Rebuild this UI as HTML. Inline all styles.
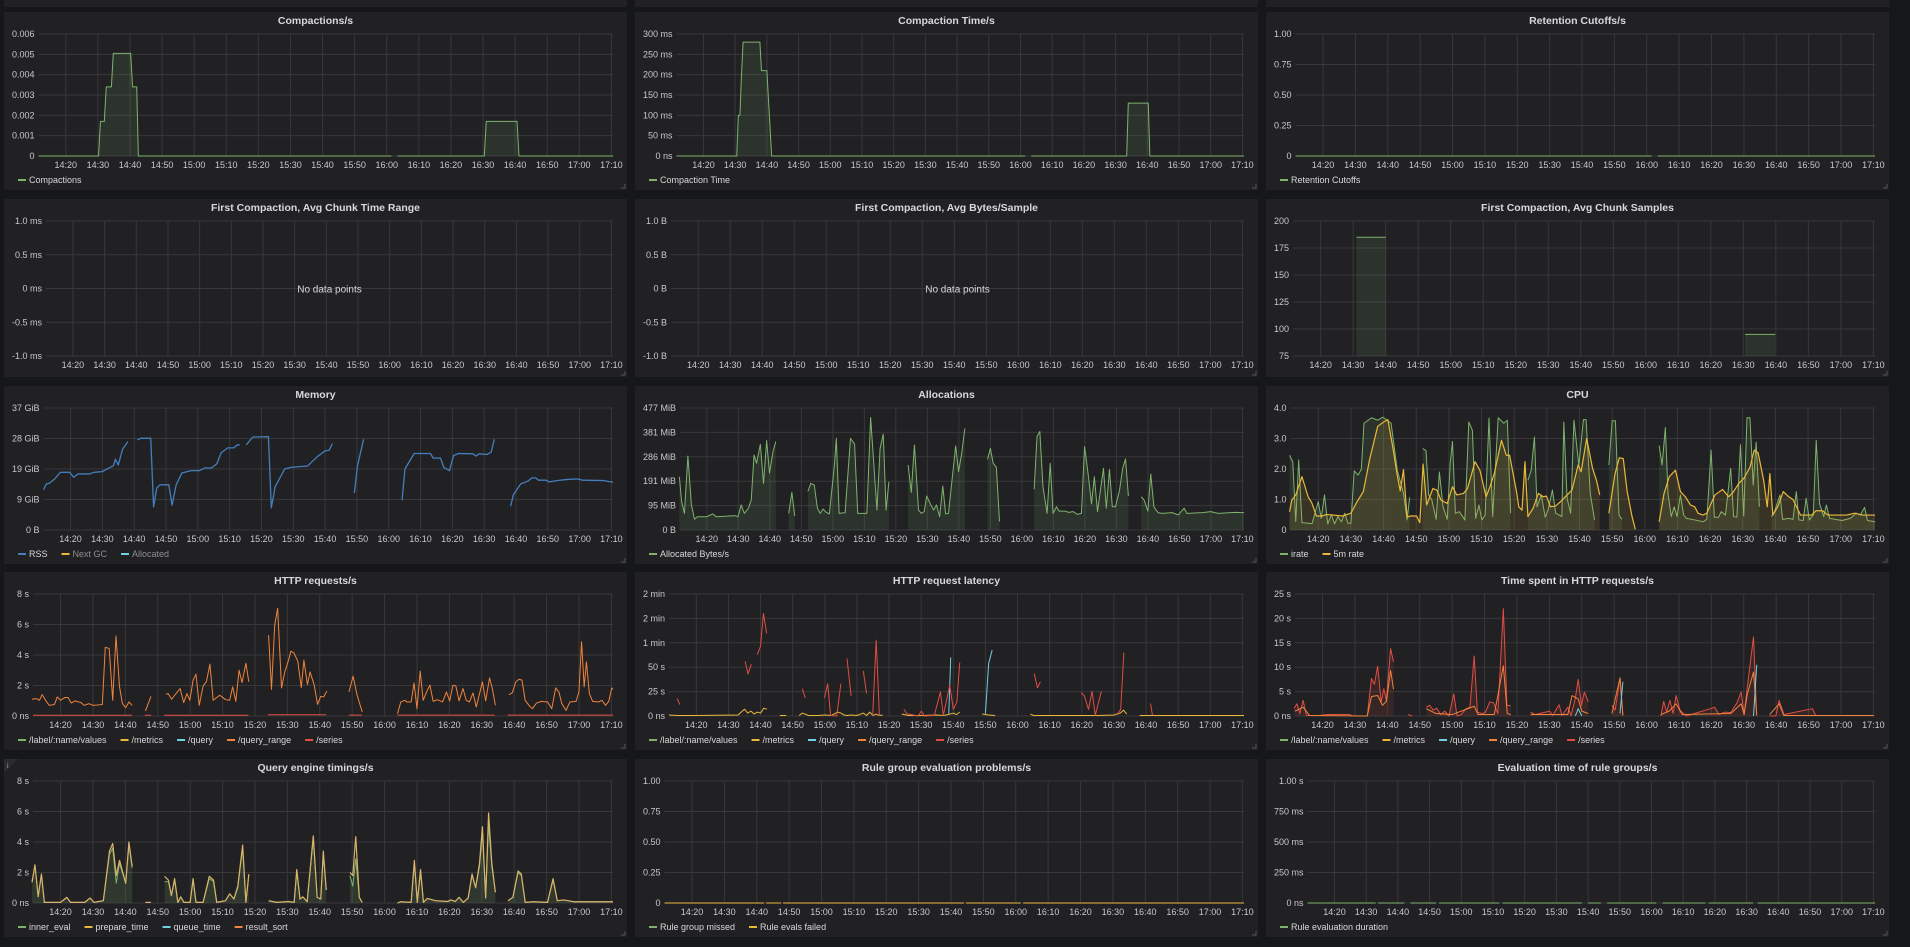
<!DOCTYPE html>
<html><head><meta charset="utf-8">
<style>
html,body{margin:0;padding:0;background:#161719;width:1910px;height:947px;overflow:hidden;font-family:"Liberation Sans",sans-serif;}
.panel{position:absolute;background:#212124;}
svg text{font-family:"Liberation Sans",sans-serif;}
</style></head>
<body>
<div id="root"></div>
<script>
// ---------- shared axis data ----------
const xTickLabels=["14:20","14:30","14:40","14:50","15:00","15:10","15:20","15:30","15:40","15:50","16:00","16:10","16:20","16:30","16:40","16:50","17:00","17:10"];
const tStart=11.5, tEnd=190.5;

// ---------- Compactions/s ----------
const compT=[11.5,30.2,30.8,32,32.6,34.2,34.8,40.2,40.8,42.1,42.6,44,121.5,121.6,123.4,150.4,151,160.6,161.2,190.5];
const compV=[0,0,0.0017,0.0017,0.0034,0.0034,0.00505,0.00505,0.0034,0.0034,0,0,0,null,0,0,0.0017,0.0017,0,0];
const compTicks=[0,0.001,0.002,0.003,0.004,0.005,0.006];
const compTickLabels=["0","0.001","0.002","0.003","0.004","0.005","0.006"];

// ---------- Compaction Time/s ----------
const ctT=[11.5,30.5,31,31.5,32,32.5,37.8,38.3,40,41.5,121.5,121.6,123.4,153.5,154,160.3,160.8,190.5];
const ctV=[0,0,100,100,200,280,280,210,210,0,0,null,0,0,130,130,0,0];
const ctTicks=[0,50,100,150,200,250,300];
const ctTickLabels=["0 ns","50 ms","100 ms","150 ms","200 ms","250 ms","300 ms"];

// ---------- Retention ----------
const retT=[11.5,121.5,121.6,123.4,190.5];
const retV=[0,0,null,0,0];
const unitTicks=[0,0.25,0.5,0.75,1];
const unitTickLabels=["0","0.25","0.50","0.75","1.00"];

// ---------- No data panels ----------
const msTicks=[-1,-0.5,0,0.5,1];
const msTickLabels=["-1.0 ms","-0.5 ms","0 ms","0.5 ms","1.0 ms"];
const bTickLabels=["-1.0 B","-0.5 B","0 B","0.5 B","1.0 B"];

// ---------- Avg chunk samples ----------
const sampT=[31,40,40.1,150.5,159.8];
const sampV=[185,185,null,95,95];
const sampTicks=[75,100,125,150,175,200];
const sampTickLabels=["75","100","125","150","175","200"];

// ---------- Memory ----------
const memT=[11.5,12.4,13.4,15,16.8,19.7,21,22.3,26,27.4,29.9,32.5,33.5,34.1,35,36.3,38,39,41,42,45.2,46.1,47.1,48.1,50.9,51.9,53.2,55,57.9,60.5,62.2,64.3,66,67.3,69.4,71.3,72.4,73.2,74,75.2,77.3,82.2,83.1,84.3,87.3,89.2,94.5,97.5,100,101.3,102.3,105,109.2,110.2,112.1,118,124.2,125.1,128,133.1,134,136.3,137.3,139.1,140.4,142,146.5,147.4,148.4,150.9,152.2,153.2,155,158.3,159.2,161.5,163.7,165,166.2,167.1,169.4,170.4,173.2,175.7,179.4,180.9,187.3,189.8,190.5];
const memV=[12.2,14,14.2,15.5,17.5,17.5,16,17,17,17.5,17.7,19,19.5,21.5,19.7,24.4,26.8,null,27.3,27.8,27.8,7,12.8,13.7,13.7,7.5,13.7,17.3,18,18,18.8,18.8,20.1,23.4,24.9,24.9,25.8,25.8,null,25.8,28.2,28.3,6.7,13.1,18.5,19,19.4,22.2,24,24.2,26.2,null,11.2,19.5,27.5,null,9,18.5,23.2,23.2,21.8,21.8,19,18,22.6,23.2,23.1,22.4,23.1,22.9,23.6,27.5,null,7.2,10.7,14,14.8,15.8,15.8,15.1,15.1,14.6,15,15.3,15.5,15.1,15,14.6,14.6];
const memTicks=[0,9.25,18.5,27.75,37];
const memTickLabels=["0 B","9 GiB","19 GiB","28 GiB","37 GiB"];

// ---------- Allocations ----------
const allocT=[11.3,12,12.9,14,15.1,16.1,17,20,21.9,23,29,29.9,30.9,31.9,33.2,34.1,35,35.8,37,38,39,39.9,41,41.9,44,46,47,47.9,50,52.1,53,54.1,55.1,56,56.9,57.9,58.9,60.5,61.1,62,63.9,65.6,66.9,67.9,70.8,72,74,75,76,76.9,77.8,80,83.9,84.9,85.9,87.2,88.1,89,89.8,91.1,92,92.9,93.9,94.9,95.8,96.7,99,99.9,100.9,101.9,105,109.1,110,110.9,111.9,112.9,118,123.9,124.8,125.7,126.7,128,129,129.9,131,131.8,133.8,134.8,136.3,137.6,138.9,139.9,141.2,142.1,143,144,145.9,146.8,147.8,148.7,149.7,151,152,152.9,153.8,156,157.9,158.8,160,160.9,161.9,163.2,164.5,167.7,169.6,171.5,172.4,177.3,179.9,182.4,187.5,190.5];
const allocV=[208,111,65,289,100,42,52,52,63,52,56,52,98,65,85,117,293,261,335,182,350,222,306,346,null,65,147,55,null,151,182,176,85,65,82,69,63,254,358,65,68,358,336,65,65,440,78,319,375,78,189,null,254,147,332,78,65,72,133,98,78,98,52,172,63,65,329,228,300,397,null,276,319,261,245,33,null,159,365,385,169,65,261,65,91,74,74,69,72,61,65,326,202,102,208,72,241,85,237,91,91,156,241,278,133,null,130,117,74,219,91,68,65,68,59,85,65,68,72,65,69,68];
const allocTicks=[0,95.4,190.8,286.2,381.6,477];
const allocTickLabels=["0 B","95 MiB","191 MiB","286 MiB","381 MiB","477 MiB"];

// ---------- CPU ----------
const irateT=[11.2,12.2,13.1,14,15,18.1,20,20.9,21.9,22.9,24,25,26,27.1,28.1,29.1,30,31,32.2,33.2,34,36.3,38.2,39.8,42.3,44.2,46.1,47.2,48,50,52,53,53.8,54.8,56.1,57.1,58.2,59.5,60.4,61.1,62,63.2,64.9,66.1,67.2,68.2,69.2,70.1,71.1,72.3,73.4,75.1,76.8,77.9,78.9,81,84.2,85.2,86.2,87,88.3,89.5,90.4,91.7,92.7,94.6,95.2,96.2,97.3,98.3,99.8,101.2,102,103.3,104.6,106,109,110,111,112.1,113,118,124.4,125.3,126.3,127.1,128.1,129,129.9,130.9,131.9,132.8,135.3,137.8,139,140.3,141.3,142.6,143.4,144.7,146.3,147.2,148.2,149.3,150.3,151.3,152.2,153.2,154.1,155.1,157,158.8,159.7,161.4,162.2,164.1,165.4,166.4,167.2,168.5,169.4,170.4,171.6,172.5,173.5,174.8,175.6,176.6,180.4,182.9,184.8,186,187.3,188.2,190.5];
const irateV=[2.45,2.23,0.27,2.3,0.24,0.21,0.93,0.38,1.15,0.2,0.5,0.2,0.44,0.27,0.55,0.22,0.22,1.94,1.8,2.0,3.5,3.68,3.6,3.7,3.5,1.96,1.2,0.33,1.07,null,2.67,2.6,1.15,0.98,0.35,1.9,0.76,0.35,2.18,2.9,0.55,0.6,0.33,3.54,3.27,0.38,0.82,0.33,0.49,3.67,0.44,3.68,3.5,3.6,0.55,null,1.63,1.96,3.05,0.76,1.15,0.42,0.66,1.31,0.55,0.44,3.54,1.04,0.55,3.6,2.13,3.62,3.62,1.2,0.33,null,2.13,3.58,3.58,0.49,0.35,null,2.77,2.13,3.36,1.2,0.44,0.76,0.44,1.15,0.49,0.38,0.33,0.27,0.35,2.62,0.42,0.42,0.6,0.49,2.02,0.44,0.42,2.8,0.46,3.68,3.68,1.47,2.88,0.76,null,0.44,0.6,1.15,0.35,0.38,0.35,1.26,0.33,0.31,1.04,0.33,0.49,2.94,0.87,0.44,0.82,0.38,0.31,0.38,0.55,0.49,0.74,0.31,0.27];
const rate5T=[11.2,11.9,13.1,15,16.9,18.1,19.4,21.3,22.5,27.5,30,31.9,33.8,35.7,38.2,40.1,41.3,42.8,44.1,45.1,46.1,47.2,48.2,50.1,51.1,52.1,53.2,55.1,56.3,57.6,59.5,61.1,62.4,64.5,65.7,68,69.5,71.4,72.6,73.9,76.1,77.6,78.6,80.8,81.4,82.4,83.3,84.2,85.8,87.4,88.9,89.9,91.1,92.7,94.2,96.2,97.7,99.6,100.5,102.2,104,105.2,106.2,108,109,110.9,112.2,113.4,114.6,116.1,117.1,120,124.4,125.9,127.5,129.4,130.9,132.4,134,135.3,136.3,137.8,139,140.3,141.5,143.8,145.7,147.2,148.8,150.3,152.2,153.5,154.7,156.4,157.5,158.3,159.2,160.7,162.4,164.1,165.4,166.7,167.7,171.1,172.4,174.5,176.1,181.8,184.3,186.7,190.5];
const rate5V=[0.6,0.98,1.15,1.75,1.09,0.87,0.46,0.46,0.51,0.46,0.55,0.93,1.26,2.3,3.4,3.55,3.62,2.73,1.85,1.28,1.98,0.42,0.46,0.46,0.24,2.16,0.82,1.36,1.31,0.98,0.87,1.42,1.15,1.2,1.36,2.24,1.96,1.09,1.42,1.85,2.94,2.45,2.45,1.2,0.76,0.65,2.24,0.44,0.71,1.2,1.09,1.11,0.76,0.79,0.93,1.15,1.31,2.13,1.91,3.0,2.02,1.63,1.15,null,0.55,1.85,2.37,2.34,1.26,0.44,0.02,null,0.27,1.2,1.75,1.96,1.26,1.09,0.82,0.76,0.55,0.49,0.55,0.87,1.15,1.33,1.09,1.26,1.53,1.69,2.05,2.62,2.53,1.63,0.76,1.85,0.49,0.76,1.26,1.09,1.0,0.71,0.49,0.49,0.63,0.63,0.49,0.49,0.55,0.49,0.49];
const cpuTicks=[0,1,2,3,4];
const cpuTickLabels=["0","1.0","2.0","3.0","4.0"];

// ---------- HTTP requests/s ----------
const reqT=[11.2,12.5,13.5,14.3,15.6,16.5,18.1,19,20,21.3,22.3,23.3,24.4,26.3,27.3,28.8,30,32.9,33.8,35,36.1,37.1,38.2,39.1,40.1,41.1,42.1,44,46.2,47.9,50,52.5,53.2,54.3,55.2,56.9,58,59,59.9,60.9,61.8,62.8,64,65,66.1,67.1,69.1,71,72.2,73.1,74.1,75.1,76,77.2,78.1,80,84.2,85.1,86.1,87,88.2,89.2,90.2,91.1,92,93.2,94.3,95.1,96.2,97,98.3,99.3,100.3,101.2,102.2,105,109,110.3,111.4,113.1,118,124,125,126.3,126.9,128.2,129.1,130,131,131.9,133.2,134,135,136.3,137.9,139.1,140.1,141.1,142,143,144.2,145.2,146.2,147.3,148.3,150.2,151.2,152.4,153.3,154.2,156,158.4,159.4,160.5,161.5,162.4,163.4,164.7,165.6,166.9,168.4,170.3,171.6,172.8,173.8,174.7,176,177.2,179.1,180,180.8,181.6,182.3,183.2,184.2,186.1,187.1,188.2,189.2,190.1,190.5];
const reqV=[1.1,1.14,1.03,1.4,0.96,0.7,0.75,1.25,1.03,1.21,1.21,0.85,0.99,0.88,0.7,0.81,0.7,0.75,4.5,4.43,1.03,5.24,1.91,0.81,0.55,0.92,0.7,null,0.33,1.29,null,1.43,1.47,1.1,1.36,1.8,0.88,1.47,1.03,2.35,2.74,0.7,1.97,2.24,3.4,1.03,1.36,1.07,1.03,1.91,0.96,3.0,2.19,3.46,2.24,null,5.3,1.75,5.96,7.06,1.84,2.89,3.55,4.25,4.14,3.61,1.86,3.66,2.06,2.89,2.02,0.77,1.29,1.25,1.64,null,1.58,2.61,1.47,0.26,null,0.15,0.92,1.03,0.92,0.92,2.17,0.48,2.94,1.03,1.69,2.02,0.96,1.07,0.92,1.58,0.99,2.02,1.97,0.99,1.8,1.03,0.92,1.51,0.59,2.24,0.99,2.5,1.75,0.7,null,1.4,1.51,2.24,2.41,2.35,1.03,0.66,0.48,0.85,0.96,0.92,0.48,1.84,1.58,0.81,0.37,0.92,0.96,1.58,4.87,1.91,3.55,1.47,0.96,0.92,1.03,0.7,0.96,1.84,1.75];
const lowT=[11.5,42,44,46,48,50,52,78,80,84,102,105,109,113,118,124,154,156,158,190.5];
const reqLowV=[0.05,0.05,null,0.05,0.05,null,0.05,0.05,null,0.08,0.08,null,0.06,0.06,null,0.06,0.06,null,0.06,0.06];
const reqTicks=[0,2,4,6,8];
const reqTickLabels=["0 ns","2 s","4 s","6 s","8 s"];

// ---------- HTTP request latency ----------
const latSerT=[14,14.9,16,35.2,36.1,37.1,38,39,40,40.9,41.9,43,53,53.9,55,59.9,60.9,61.8,63.7,65,66,66.9,68.2,70,72,73,74,74.9,76,77,80,84.6,85.5,89,90.1,91,94.1,96,96.9,98.9,100,101.1,102,104,125.2,126.2,127.1,130,139.8,140.8,142.1,143.2,144.2,146.1,148,151.2,152.1,153.1,155,161.4,162];
const latSerV=[17.8,11.6,null,56,43,53,null,63,71.6,105,84.6,null,28,18.5,null,18.5,33,0.7,0,33,null,59,20.5,null,46,23,null,0,77.7,0,null,6.8,2.4,0,5,0,0.7,24.7,0.7,31.5,6.8,14.4,54.8,null,43.5,28.8,35,null,24,20.5,6.8,25.3,0.7,25.3,null,2.4,6.8,65,null,12.7,0.7];
const latQueryT=[98.6,99.2,100,110,111,112.1];
const latQueryV=[2.4,60,null,2.4,53.8,67.5];
const latMetT=[11.5,14,20,33,35,36,37,38,39,40,41,42,44,46,48,50,52,53,55,58,60,62,64,65,66,67,68,70,72,73,74,75,76,77,78,80,84,86,90,95,97,99,100,101,102,105,109,111,113,118,124,125,127,130,140,145,150,152,153,154,156,158,170,190.5];
const latMetV=[1,0.5,0.5,1,7,3,5,2,4,3,8,7,null,0.5,0.5,null,0.5,3,0.5,0.5,1,0.5,4,3,1,0.5,1,0.5,3,0.5,4,0.5,2,0.5,1,null,2,0.5,0.5,1,0.5,2,3,1.5,4,null,2,1,0.5,null,2,0.5,0.5,0.5,0.5,0.5,1,3,6,2,null,0.5,0.5,0.5];
const latTicks=[0,25,50,75,100,125];
const latTickLabels=["0 ns","25 s","50 s","1 min","2 min","2 min"];

// ---------- Time spent in HTTP requests/s ----------
const spentT=[11.2,12.1,13,14,15,19,21.5,28.4,29.3,33.8,35.1,36,37,38.1,38.9,39.7,41,41.9,44,46.4,47.6,50,52,53,54.2,55.2,56.5,57.7,59,60.5,61.5,62.8,64.3,65.5,66.8,67.8,69.3,70.3,71.6,72.8,74.1,75.8,76.9,78.1,80,84.2,85.7,90.1,91,93,93.9,95.7,96.7,98,98.9,99.9,100.8,102,105,109.3,110.3,111.8,112.7,118,124.4,125.3,126.2,127.2,128.2,129.1,130.3,132.2,139.7,141,142.3,144.2,146,147.9,149.2,150.1,151.1,153,154,156,158,159.9,160.9,162.4,171.2,172.2,190.1];
const spentV=[1.5,2.5,0.5,3.2,0.1,0.1,0.3,0.3,0,0,7.7,6.5,10.2,2.9,5.6,3.2,13.8,11.1,null,0.3,0,null,1.8,2.2,1.2,1.6,0.3,1,0,4.5,0,0.3,1.5,1.8,12.3,0.8,0.5,0.8,2.9,2.7,0.5,22,2.2,2.1,null,0.8,0.3,1,0.1,2.3,0.1,1.8,0.1,3.6,7.5,2.2,4.9,2.9,null,2.2,1.2,7.8,0.1,null,0,3,0.8,3.2,0.5,4.2,1.2,0,1.5,1.8,0.3,0.8,0.7,2.7,4.9,0.3,6,16.2,0.1,null,0,0,3.2,0.3,1.5,0.1,0.1];
const spentRangeT=[11.5,14,16,33.8,35.1,37,38.5,39.7,41,41.9,44,52,55,60,66.8,68,73,75.8,77,78.1,80,84.2,95.7,97,98.9,100,102,105,109.3,111.8,112.7,118,124.4,127,129.1,131,146,149.2,150.1,151.1,153,154,156,158,160.9,162.4,190.1];
const spentRangeV=[1,1.8,0.1,0,4,4.2,2.2,3,9.3,5.5,null,1.5,0.5,0.3,2,0.3,0.3,10.3,0.5,0.3,null,0.3,0.3,4.2,3.5,1,0.5,null,0.5,7.8,0.1,null,0.3,1,2.5,0.3,0.5,2.5,0.3,4.5,9,0.1,null,0.3,2.5,0.1,0.1];
const spentQueryT=[98,98.9,100,110,111.8,112.7,152,153,154];
const spentQueryV=[0,1.5,0,null,0.5,7,null,0,10.5];
const spentTicks=[0,5,10,15,20,25];
const spentTickLabels=["0 ns","5 s","10 s","15 s","20 s","25 s"];

// ---------- Query engine timings ----------
const qeT=[11.2,12.1,13.1,14.1,15,20,21.9,23.1,27.5,29.1,30.3,33.2,35.1,36.1,37.2,38.2,40.1,41.1,42.1,44,46.2,47.9,50,52.1,53.3,54.2,55.2,56.2,57.1,58.1,60,60.9,61.8,64,65.9,67.2,68.2,70.9,72.2,73.5,74.7,76.2,77.2,78.1,80,84.2,86.7,90.4,92.1,92.9,93.9,94.8,96.1,98,99.2,100.3,101.1,102,105,109.3,110.2,111.1,112.2,113.1,118,124,125,128.2,129.2,130.1,131.1,132,133.2,135.7,139.5,140.5,141.8,143,144.3,145.8,147,148.1,149.3,150.2,151.2,152.1,153.1,154.2,156,158.1,159.6,161.2,162.2,163.4,165.9,170.3,172,173.3,175.3,178.5,184.8,190.5];
const qeInnerV=[1.36,2.5,0.42,1.9,0.04,0.04,0.37,0.04,0.04,0.33,0.04,0.15,3.2,3.6,1.3,2.6,1.3,3.8,2.3,null,0.04,0.04,null,1.4,1.4,0.48,1.5,0.04,0.4,0.04,0.04,1.5,0.04,0.04,1.6,1.4,0.04,0.15,0.6,0.26,1.0,3.6,0.04,1.8,null,0.15,0.04,0.1,0.04,2.0,0.26,0.4,0.08,4.2,0.37,0.26,3.2,0.85,null,1.8,1.1,2.9,0.37,0.04,null,0,0.08,0.04,2.6,0.04,2.0,0.04,0.3,0.15,0.1,0.2,0.1,0.37,0.04,0.33,1.8,1.0,2.4,4.6,0.33,5.2,2.4,0.7,null,0.15,0.37,2.0,1.8,0.04,0.08,0.04,1.5,0.15,0.2,0.08,0.08,0.08];
const qePrepV=[1.36,2.5,0.42,1.9,0.04,0.04,0.37,0.04,0.04,0.33,0.04,0.15,3.4,3.9,1.8,2.8,1.3,4.0,2.4,null,0.04,0.04,null,1.75,1.5,0.48,1.6,0.04,0.4,0.04,0.04,1.6,0.04,0.04,1.75,1.5,0.04,0.15,0.6,0.26,1.1,3.8,0.04,1.9,null,0.15,0.04,0.1,0.04,2.2,0.26,0.4,0.08,4.4,0.37,0.26,3.4,0.85,null,2.0,1.8,4.35,0.37,0.04,null,0,0.08,0.04,2.8,0.04,2.2,0.04,0.3,0.15,0.1,0.2,0.1,0.37,0.04,0.33,1.9,1.0,2.6,5.0,0.33,5.9,2.6,0.7,null,0.15,0.37,2.1,1.9,0.04,0.08,0.04,1.6,0.15,0.2,0.08,0.08,0.08];
const qeTicks=[0,2,4,6,8];
const qeTickLabels=["0 ns","2 s","4 s","6 s","8 s"];

// ---------- Rule groups ----------
const ruleT=[11.5,42.3,42.5,42.9,47.5,47.7,48.1,104,104.3,104.6,121.5,122,122.3,190.5];
const ruleV=[0,0,null,0,0,null,0,0,null,0,0,null,0,0];
const evalT=[11.5,33,33.4,33.8,42,43,44,52,52.5,53,72,72.5,73,98,99,100,104,105,106,121.5,122.5,123.5,137,137.5,138,152,152.7,153.5,190.5];
const evalV=[0,0,null,0,0,null,0,0,null,0,0,null,0,0,null,0,0,null,0,0,null,0,0,null,0,0,null,0,0];
const evalTickLabels=["0 ns","250 ms","500 ms","750 ms","1.00 s"];

// ---------- colours ----------
const GREEN="#7eb26d",YELLOW="#eab839",CYAN="#6ed0e0",ORANGE="#ef843c",RED="#e24d42",BLUE="#447ebc";

// ---------- layout ----------
const colX=[4,635,1266], rowY=[12,199,386,572,759], PW=623, PH=178;
const NS="http://www.w3.org/2000/svg";
const root=document.getElementById('root');
const cv=document.createElement('canvas').getContext('2d');
cv.font="9px 'Liberation Sans'";

function mk(tag,attrs,parent){const e=document.createElementNS(NS,tag);for(const k in attrs)e.setAttribute(k,attrs[k]);if(parent)parent.appendChild(e);return e;}
function tmin(l){const p=l.split(':');return (+p[0]-14)*60+(+p[1]);}

for(let c=0;c<3;c++){
  const d=document.createElement('div');d.className='panel';
  d.style.cssText=`left:${colX[c]}px;top:-10px;width:${PW}px;height:17px;`;
  
  
  root.appendChild(d);
}

function drawPanel(p){
  const d=document.createElement('div');d.className='panel';
  d.style.cssText=`left:${colX[p.col]}px;top:${rowY[p.row]}px;width:${PW}px;height:${PH}px;`;
  
  
  root.appendChild(d);
  const svg=mk('svg',{width:PW,height:PH},d);
  const t=mk('text',{x:PW/2,y:12,'text-anchor':'middle','font-size':'10.5','font-weight':'bold',fill:'#d8d9da'},svg);
  t.textContent=p.title;
  
  
  const hasLeg=p.legend&&p.legend.length;
  const top=22, bot=hasLeg?144:157;
  let w=0;p.tickLabels.forEach(s=>{w=Math.max(w,cv.measureText(s).width);});
  const L=4+w+4+4, R=PW-14;
  const yMin=p.ticks[0], yMax=p.ticks[p.ticks.length-1];
  const xS=v=>L+(v-tStart)/(tEnd-tStart)*(R-L);
  const yS=v=>bot-(v-yMin)/(yMax-yMin)*(bot-top);
  const grid=mk('g',{},svg);
  
  
  p.ticks.forEach((v,i)=>{
    mk('line',{x1:L,x2:R,y1:yS(v),y2:yS(v),stroke:'#38383b','stroke-width':1},grid);
    const tx=mk('text',{x:L-4,y:yS(v)+3,'text-anchor':'end','font-size':'9',fill:'#c8c9ca'},svg);
    tx.textContent=p.tickLabels[i];
    
    
  });
  xTickLabels.forEach(l=>{
    const x=xS(tmin(l));
    mk('line',{x1:x,x2:x,y1:top,y2:bot,stroke:'#38383b','stroke-width':1},grid);
    const tx=mk('text',{x:x,y:bot+12,'text-anchor':'middle','font-size':'9',fill:'#c8c9ca'},svg);
    tx.textContent=l;
    
    
  });
  if(p.noData){
    const tx=mk('text',{x:(L+R)/2,y:(top+bot)/2+4,'text-anchor':'middle','font-size':'10',fill:'#d8d9da'},svg);
    tx.textContent='No data points';
    
    
  }
  (p.series||[]).forEach(s=>{
    const g=mk('g',{},svg);
    
    
    let segs=[],cur=[];
    s.t.forEach((tt,i)=>{const v=s.v[i];if(v===null){if(cur.length)segs.push(cur);cur=[];}else cur.push([xS(tt),yS(v)]);});
    if(cur.length)segs.push(cur);
    segs.forEach(sg=>{
      if(s.fill){
        const b=yS(Math.max(yMin,0));
        const pts=sg.map(q=>q.join(',')).join(' ')+` ${sg[sg.length-1][0]},${b} ${sg[0][0]},${b}`;
        const f=mk('polygon',{points:pts,fill:s.color,'fill-opacity':s.fill},g);
        
        
      }
      if(sg.length===1)sg=[sg[0],[sg[0][0]+1,sg[0][1]]];
      const pl=mk('polyline',{points:sg.map(q=>q.join(',')).join(' '),fill:'none',stroke:s.color,'stroke-width':s.w||1,'stroke-linejoin':'round'},g);
      
      
    });
  });
  if(hasLeg){
    let x=14;
    p.legend.forEach(it=>{
      const g=mk('g',{},svg);
      
      
      mk('rect',{x:x,y:167,width:8,height:2,fill:it[1]},g);
      const tx=mk('text',{x:x+11,y:171,'font-size':'9',fill:it[2]?'#8e8e8e':'#d8d9da'},g);
      tx.textContent=it[0];
      x+=11+cv.measureText(it[0]).width+14;
    });
  }
  mk('path',{d:`M${PW-6} ${PH-2} L${PW-2} ${PH-2} L${PW-2} ${PH-6}`,stroke:'#555',fill:'none','stroke-width':1},svg);
  if(p.info){
    mk('path',{d:'M0 0 L14 0 L0 14 Z',fill:'#2c2c2f'},svg);
    const tx=mk('text',{x:3,y:9,'font-size':'7',fill:'#aaa'},svg);tx.textContent='i';
  }
}

const panels=[
 {name:'compactions-panel',row:0,col:0,title:'Compactions/s',ticks:compTicks,tickLabels:compTickLabels,series:[{name:'compactions-series',t:compT,v:compV,color:GREEN,fill:0.12}],legend:[['Compactions',GREEN]]},
 {name:'compaction-time-panel',row:0,col:1,title:'Compaction Time/s',ticks:ctTicks,tickLabels:ctTickLabels,series:[{name:'compaction-time-series',t:ctT,v:ctV,color:GREEN,fill:0.12}],legend:[['Compaction Time',GREEN]]},
 {name:'retention-cutoffs-panel',row:0,col:2,title:'Retention Cutoffs/s',ticks:unitTicks,tickLabels:unitTickLabels,series:[{name:'retention-series',t:retT,v:retV,color:GREEN}],legend:[['Retention Cutoffs',GREEN]]},
 {name:'avg-chunk-time-range-panel',row:1,col:0,title:'First Compaction, Avg Chunk Time Range',ticks:msTicks,tickLabels:msTickLabels,noData:true},
 {name:'avg-bytes-sample-panel',row:1,col:1,title:'First Compaction, Avg Bytes/Sample',ticks:msTicks,tickLabels:bTickLabels,noData:true},
 {name:'avg-chunk-samples-panel',row:1,col:2,title:'First Compaction, Avg Chunk Samples',ticks:sampTicks,tickLabels:sampTickLabels,series:[{name:'chunk-samples-series',t:sampT,v:sampV,color:GREEN,fill:0.12}]},
 {name:'memory-panel',row:2,col:0,title:'Memory',ticks:memTicks,tickLabels:memTickLabels,series:[{name:'rss-series',t:memT,v:memV,color:BLUE,w:1.3}],legend:[['RSS',BLUE],['Next GC',YELLOW,1],['Allocated',CYAN,1]]},
 {name:'allocations-panel',row:2,col:1,title:'Allocations',ticks:allocTicks,tickLabels:allocTickLabels,series:[{name:'allocated-bytes-series',t:allocT,v:allocV,color:GREEN,fill:0.12}],legend:[['Allocated Bytes/s',GREEN]]},
 {name:'cpu-panel',row:2,col:2,title:'CPU',ticks:cpuTicks,tickLabels:cpuTickLabels,series:[{name:'irate-series',t:irateT,v:irateV,color:GREEN,fill:0.12},{name:'5m-rate-series',t:rate5T,v:rate5V,color:YELLOW,fill:0.12,w:1.2}],legend:[['irate',GREEN],['5m rate',YELLOW]]},
 {name:'http-requests-panel',row:3,col:0,title:'HTTP requests/s',ticks:reqTicks,tickLabels:reqTickLabels,series:[{name:'series-endpoint',t:lowT,v:reqLowV,color:RED},{name:'query-range-series',t:reqT,v:reqV,color:ORANGE}],legend:[['/label/:name/values',GREEN],['/metrics',YELLOW],['/query',CYAN],['/query_range',ORANGE],['/series',RED]]},
 {name:'http-latency-panel',row:3,col:1,title:'HTTP request latency',ticks:latTicks,tickLabels:latTickLabels,series:[{name:'metrics-latency-series',t:latMetT,v:latMetV,color:YELLOW},{name:'query-latency-series',t:latQueryT,v:latQueryV,color:CYAN},{name:'series-latency-series',t:latSerT,v:latSerV,color:RED}],legend:[['/label/:name/values',GREEN],['/metrics',YELLOW],['/query',CYAN],['/query_range',ORANGE],['/series',RED]]},
 {name:'time-spent-panel',row:3,col:2,title:'Time spent in HTTP requests/s',ticks:spentTicks,tickLabels:spentTickLabels,series:[{name:'series-time-series',t:spentT,v:spentV,color:RED,fill:0.12},{name:'query-range-time-series',t:spentRangeT,v:spentRangeV,color:ORANGE},{name:'query-time-series',t:spentQueryT,v:spentQueryV,color:CYAN}],legend:[['/label/:name/values',GREEN],['/metrics',YELLOW],['/query',CYAN],['/query_range',ORANGE],['/series',RED]]},
 {name:'query-engine-panel',row:4,col:0,info:true,title:'Query engine timings/s',ticks:qeTicks,tickLabels:qeTickLabels,series:[{name:'inner-eval-series',t:qeT,v:qeInnerV,color:GREEN,fill:0.15},{name:'prepare-time-series',t:qeT,v:qePrepV,color:'#d9b36a',w:1.2}],legend:[['inner_eval',GREEN],['prepare_time',YELLOW],['queue_time',CYAN],['result_sort',ORANGE]]},
 {name:'rule-problems-panel',row:4,col:1,title:'Rule group evaluation problems/s',ticks:unitTicks,tickLabels:unitTickLabels,series:[{name:'rule-evals-failed-series',t:ruleT,v:ruleV,color:YELLOW}],legend:[['Rule group missed',GREEN],['Rule evals failed',YELLOW]]},
 {name:'rule-eval-time-panel',row:4,col:2,title:'Evaluation time of rule groups/s',ticks:unitTicks,tickLabels:evalTickLabels,series:[{name:'rule-eval-duration-series',t:evalT,v:evalV,color:GREEN}],legend:[['Rule evaluation duration',GREEN]]}
];
panels.forEach(drawPanel);
</script>
</body></html>
